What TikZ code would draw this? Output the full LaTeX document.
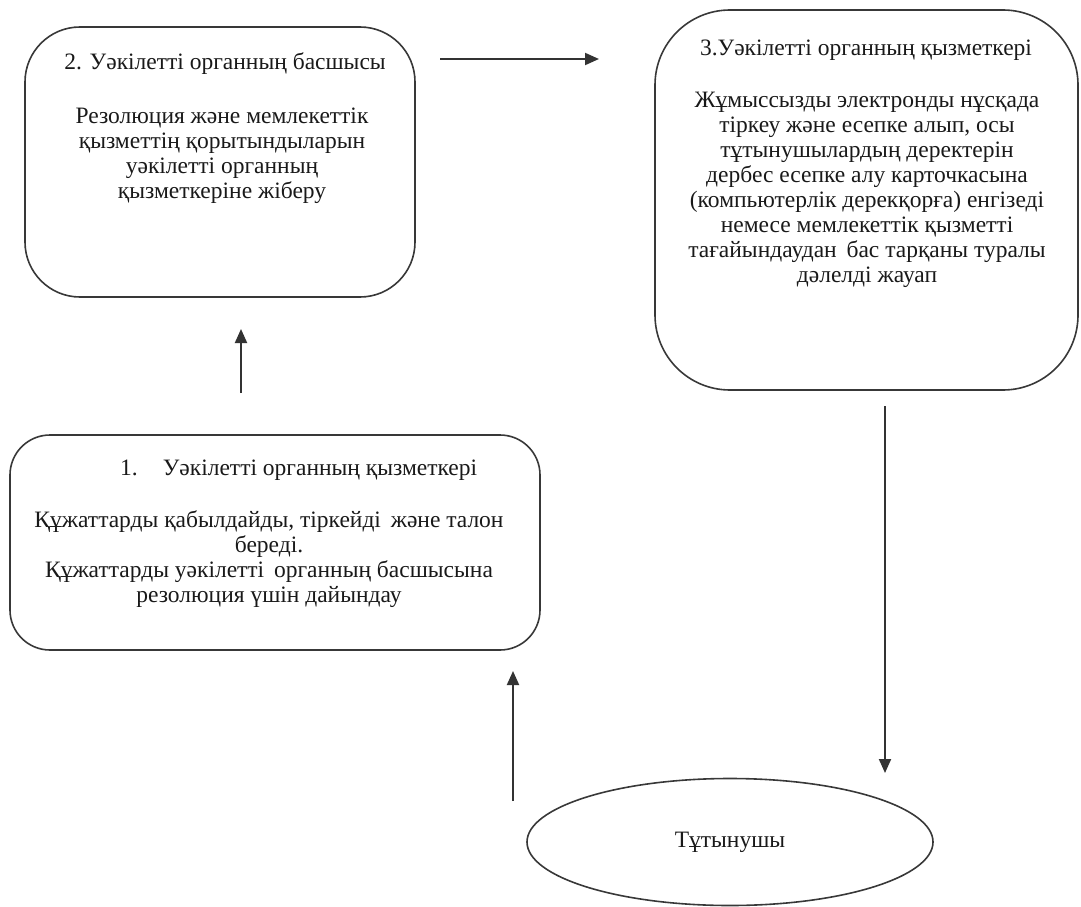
\documentclass[tikz,border=0pt]{standalone}
\usepackage{fontspec}
\setmainfont{Liberation Serif}
\usetikzlibrary{arrows.meta,shapes.geometric}
\begin{document}
\begin{tikzpicture}[x=1pt,y=-1pt,
  every node/.style={font=\fontsize{23.5}{25}\selectfont, text=black!90},
  stagebox/.style={draw=black!78, line width=1.6pt, rounded corners=#1, inner sep=0pt},
  txt/.style={align=center, inner sep=0pt},
  flow/.style={draw=black!80, line width=2pt, -{Triangle[length=14pt,width=12pt]}}
]
\useasboundingbox (0,0) rectangle (1081,907);

% stage boxes
\node[stagebox=55pt, minimum width=390pt, minimum height=270pt] (b2) at (220,162) {};
\node[stagebox=75pt, minimum width=423pt, minimum height=380pt] (b3) at (866.5,200) {};
\node[stagebox=40pt, minimum width=530pt, minimum height=215pt] (b1) at (275,542.5) {};
\node[draw=black!78, line width=1.6pt, ellipse, minimum width=406pt, minimum height=127pt, inner sep=0pt] (cl) at (730,842) {};

% box 2
\node[txt] (b2t) at (225,64) {2. Уәкілетті органның басшысы};
\node[txt] (b2b) at (222,156) {Резолюция және мемлекеттік\\қызметтің қорытындыларын\\уәкілетті органның\\қызметкеріне жіберу};

% box 3
\node[txt] (b3t) at (866,50) {3.Уәкілетті органның қызметкері};
\node[txt] (b3b) at (867,190) {Жұмыссызды электронды нұсқада\\тіркеу және есепке алып, осы\\тұтынушылардың деректерін\\дербес есепке алу карточкасына\\(компьютерлік дерекқорға) енгізеді\\немесе мемлекеттік қызметті\\тағайындаудан\, бас тарқаны туралы\\дәлелді жауап};

% box 1: numbered title followed by a tab gap
\node[txt, anchor=west] (b1t) at (120,470) {1.\hspace{25pt}Уәкілетті органның қызметкері};
\node[txt] (b1b) at (269,559) {Құжаттарды қабылдайды, тіркейді\, және талон\\береді.\\Құжаттарды уәкілетті\, органның басшысына\\резолюция үшін дайындау};

% client
\node[txt] (clt) at (cl.center) {Тұтынушы};

% connectors
\coordinate (h1) at (440,59);
\coordinate (h2) at (599,59);
\coordinate (u1) at (241,393);
\coordinate (u2) at (241,329);
\coordinate (d1) at (885,406);
\coordinate (d2) at (885,773);
\coordinate (v1) at (513,801);
\coordinate (v2) at (513,671);
\draw[flow] (h1) -- (h2);
\draw[flow] (u1) -- (u2);
\draw[flow] (d1) -- (d2);
\draw[flow] (v1) -- (v2);
\end{tikzpicture}
\end{document}
